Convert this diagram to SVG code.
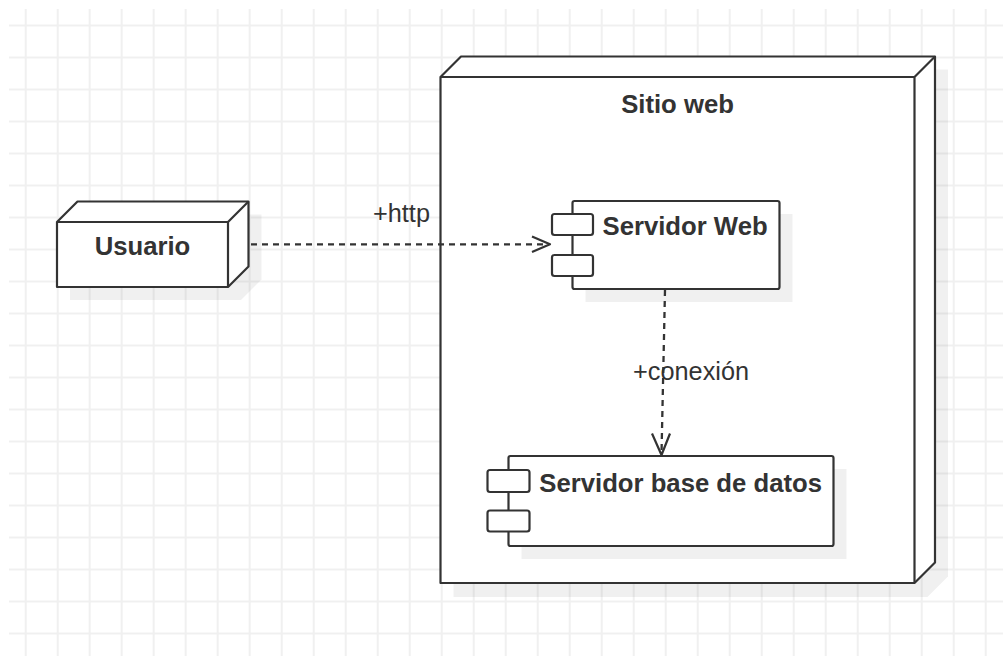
<svg xmlns="http://www.w3.org/2000/svg" width="1003" height="656" viewBox="0 0 1003 656">
  <defs>
    <pattern id="grid" patternUnits="userSpaceOnUse" x="9.7" y="9.5" width="32" height="32">
      <line x1="16" y1="0" x2="16" y2="32" stroke="#f0f0f0" stroke-width="2"/>
      <line x1="0" y1="16" x2="32" y2="16" stroke="#f0f0f0" stroke-width="2"/>
    </pattern>
  </defs>
  <style>
    .edge{fill:none;stroke:#333;stroke-width:2.2;stroke-linejoin:round}
    .face{fill:#fff;stroke:#333;stroke-width:2.2;stroke-linejoin:round}
    .shadow{fill:#808080;fill-opacity:0.12;stroke:none}
    .bold{font-family:"Liberation Sans",Arial,sans-serif;font-weight:bold;font-size:25.7px;fill:#333}
    .lbl{font-family:"Liberation Sans",Arial,sans-serif;font-size:25.3px;fill:#333}
    .conn{fill:none;stroke:#333;stroke-width:2.3;stroke-dasharray:6 5}
  </style>
  <rect width="1003" height="656" fill="#fff"/>
  <rect x="9" y="9" width="994" height="647" fill="url(#grid)"/>

  <g id="sitio-web">
    <path class="shadow" d="M453.5,90 L474,69.5 L948,69.5 L948,576.5 L927.5,597 L453.5,597 Z"/>
    <path class="face" d="M440.5,77 L461,56.5 L935,56.5 L935,562.5 L914.5,583 L440.5,583 Z"/>
    <path class="edge" d="M440.5,77 L914.5,77 L914.5,583 M914.5,77 L935,56.5"/>
    <text class="bold" x="677.5" y="113" text-anchor="middle">Sitio web</text>
  </g>

  <g id="usuario">
    <path class="shadow" d="M70,235 L90.5,214.5 L261.5,214.5 L261.5,279.5 L241,300 L70,300 Z"/>
    <path class="face" d="M57,222 L77.5,201.5 L248.5,201.5 L248.5,266.5 L228,287 L57,287 Z"/>
    <path class="edge" d="M57,222 L228,222 L228,287 M228,222 L248.5,201.5"/>
    <text class="bold" x="142.5" y="255" text-anchor="middle">Usuario</text>
  </g>

  <g id="servidor-web">
    <rect class="shadow" x="585.5" y="214" width="207" height="88"/>
    <rect class="face" x="572.5" y="201" width="207" height="88" rx="2"/>
    <rect class="face" x="552" y="214" width="41" height="21" rx="2.5"/>
    <rect class="face" x="552" y="255" width="41" height="21" rx="2.5"/>
    <text class="bold" x="602.5" y="235">Servidor Web</text>
  </g>

  <g id="servidor-bd">
    <rect class="shadow" x="521.5" y="469" width="325" height="90"/>
    <rect class="face" x="508.5" y="456" width="325" height="90" rx="2"/>
    <rect class="face" x="487.5" y="470" width="42" height="22" rx="2.5"/>
    <rect class="face" x="487.5" y="510.5" width="42" height="21" rx="2.5"/>
    <text class="bold" x="539.3" y="491.5">Servidor base de datos</text>
  </g>

  <g id="connectors">
    <path class="conn" d="M251,244.3 L549,244.3"/>
    <path class="edge" d="M532,236.5 L550,244.3 L532,252" stroke-width="2"/>
    <text class="lbl" x="373" y="222">+http</text>
    <path class="conn" d="M665,290 L661.5,454"/>
    <path class="edge" d="M652,433.5 L661.5,455 L670,433.5" stroke-width="2"/>
    <text class="lbl" x="633" y="380">+conexión</text>
  </g>
</svg>
